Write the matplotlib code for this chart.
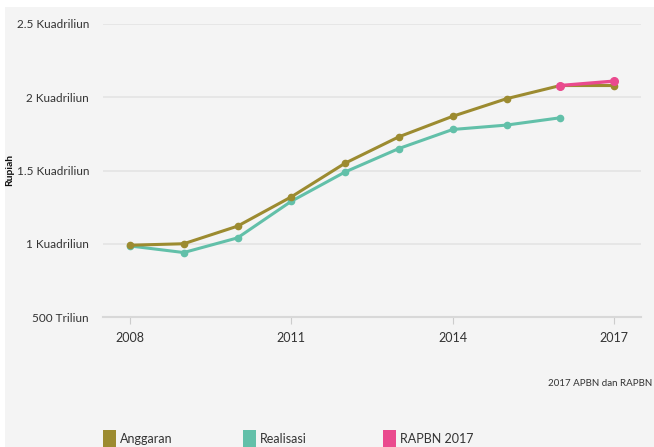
import matplotlib.pyplot as plt
from matplotlib.patches import Rectangle

# data (Kuadriliun Rupiah)
years = [2008, 2009, 2010, 2011, 2012, 2013, 2014, 2015, 2016, 2017]
anggaran = [0.99, 1.00, 1.12, 1.32, 1.55, 1.73, 1.87, 1.99, 2.08, 2.08]
real_years = [2008, 2009, 2010, 2011, 2012, 2013, 2014, 2015, 2016]
realisasi = [0.985, 0.94, 1.04, 1.29, 1.49, 1.65, 1.78, 1.81, 1.86]
rapbn_years = [2016, 2017]
rapbn = [2.08, 2.11]

yticks = [0.5, 1.0, 1.5, 2.0, 2.5]
ylabels = ['500 Triliun', '1 Kuadriliun', '1.5 Kuadriliun', '2 Kuadriliun', '2.5 Kuadriliun']
xticks = [2008, 2011, 2014, 2017]

c_ang = '#9c8b30'
c_real = '#62c0a9'
c_rap = '#ea4a8e'
bg = '#f4f4f4'

plt.rcParams['font.family'] = ['Lato', 'DejaVu Sans']

fig = plt.figure(figsize=(6.54, 4.47), dpi=100)
fig.patch.set_facecolor('white')
fig.patches.append(Rectangle((5/654, 0), 1, 1 - 7/447, transform=fig.transFigure,
                             facecolor=bg, edgecolor='none', zorder=-10))

ax = fig.add_axes([103/654, 1 - 317/447, 538/654, 293/447])
ax.set_facecolor(bg)

for y in yticks[1:]:
    ax.axhline(y, color='#e4e4e4', lw=1.2, zorder=0)

ax.plot(years, anggaran, color=c_ang, lw=2.2, marker='o', ms=4.5, zorder=3)
ax.plot(real_years, realisasi, color=c_real, lw=2.2, marker='o', ms=4.5, zorder=2)
ax.plot(rapbn_years, rapbn, color=c_rap, lw=2.4, marker='o', ms=5.5, zorder=4)

ax.set_xlim(2007.5, 2017.5)
ax.set_ylim(0.5, 2.5)
ax.set_yticks(yticks)
ax.set_yticklabels(ylabels, fontsize=8.5, color='#333333')
ax.set_xticks(xticks)
ax.set_xticklabels([str(x) for x in xticks], fontsize=9, color='#333333')
ax.tick_params(axis='y', length=0, pad=10)
ax.tick_params(axis='x', length=5, color='#cccccc', pad=6)
for s in ['top', 'right', 'left']:
    ax.spines[s].set_visible(False)
ax.spines['bottom'].set_color('#d8d8d8')
ax.spines['bottom'].set_linewidth(1.5)

fig.text(10/654, 1 - 170/447, 'Rupiah', rotation=90, fontsize=7.5, fontweight='bold',
         ha='center', va='center', color='#111111')

fig.text(652/654, 1 - 384/447, '2017 APBN dan RAPBN', fontsize=7, ha='right',
         va='center', color='#333333')

# legend
for x0, col, lab in [(103, c_ang, 'Anggaran'), (243, c_real, 'Realisasi'), (383, c_rap, 'RAPBN 2017')]:
    fig.patches.append(Rectangle((x0/654, 0), 13/654, 17/447, transform=fig.transFigure,
                                 facecolor=col, edgecolor='none'))
    fig.text((x0 + 17)/654, 1 - 439/447, lab, fontsize=9, ha='left', va='center', color='#333333')

fig.savefig('out.png', dpi=100, facecolor=fig.get_facecolor())
